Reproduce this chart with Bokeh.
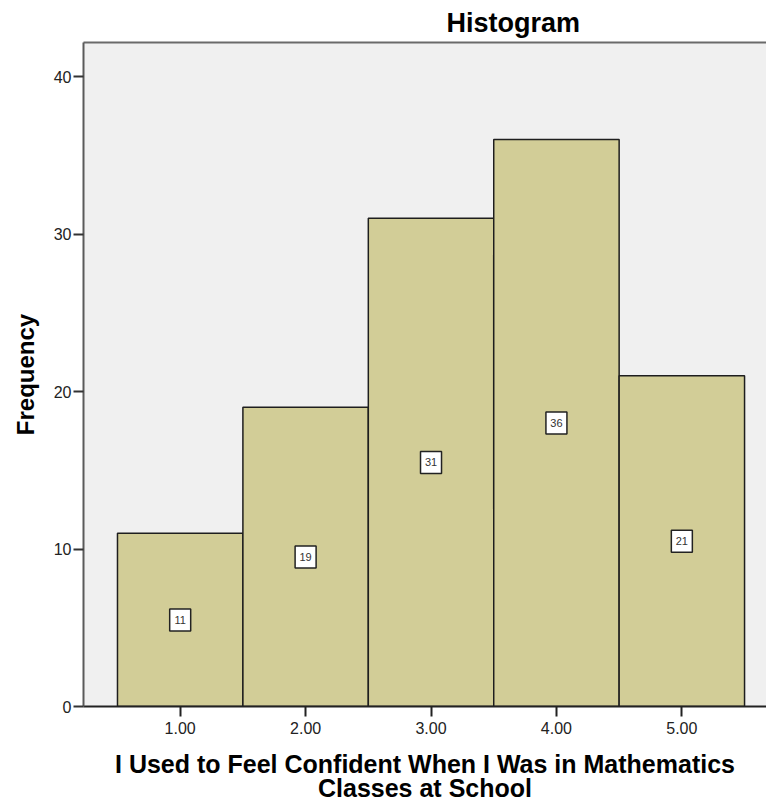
from bokeh.plotting import figure
from bokeh.models import LinearAxis, FixedTicker, Range1d, ColumnDataSource
from bokeh.embed import file_html
from bokeh.resources import INLINE
from bokeh.core.properties import value

# ---- data ----
categories = [1, 2, 3, 4, 5]
frequencies = [11, 19, 31, 36, 21]
x_tick_labels = ["1.00", "2.00", "3.00", "4.00", "5.00"]
y_ticks = [0, 10, 20, 30, 40]
title_text = "Histogram"
x_label = "I Used to Feel Confident When I Was in Mathematics\nClasses at School"
y_label = "Frequency"

FONT = "Liberation Sans"

src = ColumnDataSource(dict(
    x=categories,
    top=frequencies,
    mid=[f / 2 for f in frequencies],
    label=[str(f) for f in frequencies],
))

p = figure(width=766, height=805, output_backend="svg", toolbar_location=None,
           x_range=Range1d(0.229, 5.675), y_range=Range1d(0, 42.16),
           min_border_left=83, min_border_right=0, min_border_top=42, min_border_bottom=98,
           background_fill_color="#F0F0F0", border_fill_color="white",
           outline_line_color=None)

# title
p.title.text = title_text
p.title.align = "left"
p.title.offset = 363
p.title.text_font = FONT
p.title.text_font_size = "27px"
p.title.text_font_style = "bold"
p.title.text_color = "black"

p.xgrid.visible = False
p.ygrid.visible = False

# y axis
ya = p.yaxis[0]
ya.ticker = FixedTicker(ticks=y_ticks)
ya.axis_label = y_label
ya.axis_label_text_font = FONT
ya.axis_label_text_font_size = "24px"
ya.axis_label_text_font_style = "bold"
ya.axis_label_text_color = "black"
ya.axis_label_standoff = 12
ya.major_label_text_font = FONT
ya.major_label_text_font_size = "16px"
ya.major_label_text_color = "#222222"
ya.major_label_standoff = 2
ya.major_tick_out = 10
ya.major_tick_in = 0
ya.major_tick_line_width = 2
ya.major_tick_line_color = "#333333"
ya.minor_tick_out = 0
ya.minor_tick_in = 0
ya.axis_line_color = "#5a5a5a"
ya.axis_line_width = 2

# x axis (below)
xa = p.below[0]
xa.ticker = FixedTicker(ticks=categories)
xa.major_label_overrides = {c: l for c, l in zip(categories, x_tick_labels)}
xa.axis_label = x_label
xa.axis_label_text_font = FONT
xa.axis_label_text_font_size = "25px"
xa.axis_label_text_font_style = "bold"
xa.axis_label_text_color = "black"
xa.axis_label_text_line_height = 0.88
xa.axis_label_standoff = 13
xa.major_label_text_font = FONT
xa.major_label_text_font_size = "16px"
xa.major_label_text_color = "#222222"
xa.major_label_standoff = 5
xa.major_tick_out = 10
xa.major_tick_in = 0
xa.major_tick_line_width = 2
xa.major_tick_line_color = "#222222"
xa.minor_tick_out = 0
xa.minor_tick_in = 0
xa.axis_line_color = "#222222"
xa.axis_line_width = 2

# top border as an empty axis
top_axis = LinearAxis(ticker=FixedTicker(ticks=[]), major_label_text_font_size="0px",
                      major_tick_out=0, major_tick_in=0, minor_tick_out=0, minor_tick_in=0,
                      axis_line_color="#6a6a6a", axis_line_width=2)
p.add_layout(top_axis, "above")

# bars
p.vbar(x="x", top="top", bottom=0, width=1.0, source=src,
       fill_color="#D2CD97", line_color="#1E1E1E", line_width=1.5)

# value boxes
p.rect(x="x", y="mid", width=21, height=22, width_units="screen", height_units="screen",
       source=src, fill_color="white", line_color="#222222", line_width=1.5)
p.text(x="x", y="mid", text="label", source=src, text_align="center", text_baseline="middle",
       text_font=value(FONT), text_font_size="11px", text_color="#333333")

open("out.html", "w").write(file_html(p, INLINE))
